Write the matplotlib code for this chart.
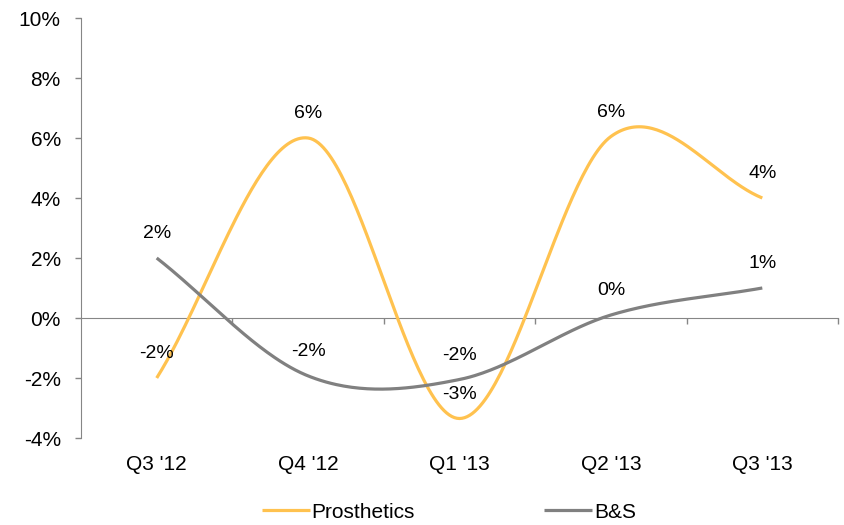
import numpy as np
import matplotlib
matplotlib.use("Agg")
import matplotlib.pyplot as plt
from matplotlib.ticker import FixedLocator, FuncFormatter

plt.rcParams['font.family'] = ['Liberation Sans', 'DejaVu Sans']

quarters = ["Q3 '12", "Q4 '12", "Q1 '13", "Q2 '13", "Q3 '13"]
prosthetics = [-2.0, 6.0, -3.35, 6.05, 4.0]
bs = [2.0, -1.93, -2.05, 0.1, 1.0]
y_ticks = [-4, -2, 0, 2, 4, 6, 8, 10]

YELLOW = '#FFC24F'
GRAY = '#808080'
AXIS = '#868686'


def smooth(values, n=60):
    """Piecewise cubic Bezier through the points (Catmull-Rom style tangents)."""
    v = np.asarray(values, dtype=float)
    k = len(v)
    tang = np.empty(k)
    tang[0] = v[1] - v[0]
    tang[-1] = v[-1] - v[-2]
    tang[1:-1] = (v[2:] - v[:-2]) / 2.0
    xs, ys = [], []
    t = np.linspace(0, 1, n)
    for i in range(k - 1):
        p0, p3 = v[i], v[i + 1]
        c1 = p0 + tang[i] / 3.0
        c2 = p3 - tang[i + 1] / 3.0
        y = ((1 - t) ** 3) * p0 + 3 * ((1 - t) ** 2) * t * c1 + 3 * (1 - t) * t ** 2 * c2 + t ** 3 * p3
        xs.append(i + t)
        ys.append(y)
    return np.concatenate(xs), np.concatenate(ys)


fig = plt.figure(figsize=(8.44, 5.25), dpi=100)
ax = fig.add_axes([81 / 844, 1 - 438 / 525, (838 - 81) / 844, (438 - 18) / 525])

x = np.arange(len(quarters))
sx, sy = smooth(prosthetics)
ax.plot(sx, sy, color=YELLOW, lw=2.3, solid_capstyle='butt', label='Prosthetics', zorder=3)
sx, sy = smooth(bs)
ax.plot(sx, sy, color=GRAY, lw=2.3, solid_capstyle='butt', label='B&S', zorder=3)

for series in (prosthetics, bs):
    for xi, v in zip(x, series):
        ax.annotate(f"{v:.0f}%", (xi, v), xytext=(0, 17.5), textcoords='offset points',
                    ha='center', va='center', fontsize=14, color='black')

ax.set_xlim(-0.5, len(quarters) - 0.5)
ax.set_ylim(min(y_ticks), max(y_ticks))

for side in ('top', 'right'):
    ax.spines[side].set_visible(False)
ax.spines['left'].set_color(AXIS)
ax.spines['bottom'].set_color(AXIS)
ax.spines['bottom'].set_position(('data', 0))

ax.yaxis.set_major_locator(FixedLocator(y_ticks))
ax.yaxis.set_major_formatter(FuncFormatter(lambda v, p: f"{v:.0f}%"))
ax.tick_params(axis='y', direction='out', length=4.5, width=1, color=AXIS, pad=10,
               labelsize=15, labelcolor='black')

ax.xaxis.set_major_locator(FixedLocator(np.arange(len(quarters)) + 0.5))
ax.tick_params(axis='x', direction='out', length=4.5, width=1, color=AXIS, labelbottom=False)

for xi, q in zip(x, quarters):
    ax.annotate(q, (xi, 0), xycoords=ax.get_xaxis_transform(), xytext=(0, -19),
                textcoords='offset points', ha='center', va='center', fontsize=15)

fig.legend(loc='center', bbox_to_anchor=(449 / 844, 1 - 512 / 525), ncol=2, frameon=False,
           fontsize=15, handlelength=2.3, handletextpad=0.08, columnspacing=6.2,
           borderaxespad=0)

fig.savefig('out.png', dpi=100)
